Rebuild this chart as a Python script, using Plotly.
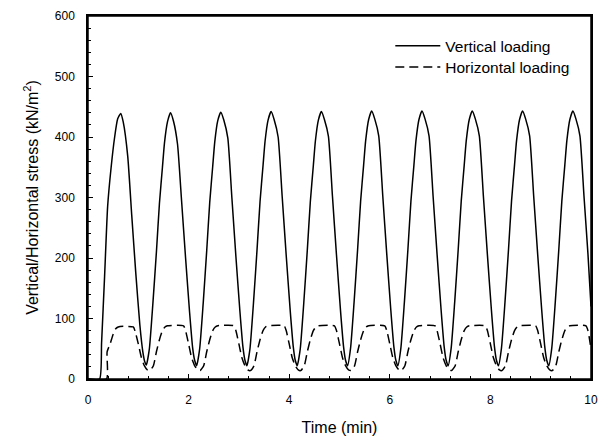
import plotly.graph_objects as go

# Vertical loading (time in min, stress in kN/m2)
vert_t = [0.00, 0.23, 0.27, 0.33, 0.39, 0.46, 0.53, 0.59, 0.65, 0.70, 0.79, 0.87, 0.95, 1.03, 1.09, 1.13, 1.16,
          1.22, 1.29, 1.36, 1.42, 1.48, 1.52, 1.58, 1.64, 1.70, 1.78, 1.86, 1.94, 2.02, 2.08, 2.12, 2.16,
          2.22, 2.29, 2.36, 2.42, 2.48, 2.52, 2.58, 2.64, 2.70, 2.78, 2.86, 2.94, 3.02, 3.08, 3.12, 3.16,
          3.22, 3.29, 3.36, 3.42, 3.48, 3.52, 3.58, 3.64, 3.70, 3.78, 3.86, 3.94, 4.02, 4.08, 4.12, 4.16,
          4.22, 4.29, 4.36, 4.42, 4.48, 4.52, 4.58, 4.64, 4.70, 4.78, 4.86, 4.94, 5.02, 5.08, 5.12, 5.16,
          5.22, 5.29, 5.36, 5.42, 5.48, 5.52, 5.58, 5.64, 5.70, 5.78, 5.86, 5.94, 6.02, 6.08, 6.12, 6.16,
          6.22, 6.29, 6.36, 6.42, 6.48, 6.52, 6.58, 6.64, 6.70, 6.78, 6.86, 6.94, 7.02, 7.08, 7.12, 7.16,
          7.22, 7.29, 7.36, 7.42, 7.48, 7.52, 7.58, 7.64, 7.70, 7.78, 7.86, 7.94, 8.02, 8.08, 8.12, 8.16,
          8.22, 8.29, 8.36, 8.42, 8.48, 8.52, 8.58, 8.64, 8.70, 8.78, 8.86, 8.94, 9.02, 9.08, 9.12, 9.16,
          9.22, 9.29, 9.36, 9.42, 9.48, 9.52, 9.58, 9.64, 9.70, 9.78, 9.86, 9.94, 10.00]
vert_y = [0, 0, 60, 170, 285, 350, 400, 430, 439, 425, 368, 270, 175, 90, 45, 28, 23,
          50, 125, 210, 290, 350, 390, 425, 440, 426, 388, 295, 200, 110, 52, 31, 22,
          50, 125, 212, 292, 352, 392, 427, 441, 428, 398, 300, 203, 112, 53, 31, 22,
          50, 126, 213, 293, 353, 393, 428, 442, 429, 400, 302, 205, 113, 54, 31, 22,
          50, 126, 213, 293, 353, 393, 428, 442, 429, 401, 302, 205, 113, 54, 31, 22,
          51, 127, 214, 294, 354, 394, 429, 443, 430, 402, 303, 206, 114, 54, 31, 22,
          51, 127, 214, 294, 354, 394, 429, 443, 430, 402, 303, 206, 114, 54, 31, 22,
          51, 127, 214, 294, 354, 394, 429, 443, 430, 402, 303, 206, 114, 54, 31, 22,
          51, 127, 214, 294, 354, 394, 429, 443, 430, 402, 303, 206, 114, 54, 31, 22,
          51, 127, 214, 294, 354, 394, 429, 443, 430, 402, 303, 206, 120]

# Horizontal loading
horz_t = [0.00, 0.37, 0.38, 0.44, 0.50, 0.55, 0.60, 0.70, 0.90, 0.94, 1.00, 1.06, 1.12, 1.18, 1.23,
          1.30, 1.36, 1.42, 1.48, 1.53, 1.58, 1.90, 1.94, 2.00, 2.06, 2.12, 2.18, 2.23,
          2.30, 2.36, 2.42, 2.48, 2.53, 2.58, 2.90, 2.94, 3.00, 3.06, 3.12, 3.18, 3.23,
          3.30, 3.36, 3.42, 3.48, 3.53, 3.58, 3.90, 3.94, 4.00, 4.06, 4.12, 4.18, 4.23,
          4.30, 4.36, 4.42, 4.48, 4.53, 4.58, 4.90, 4.94, 5.00, 5.06, 5.12, 5.18, 5.23,
          5.30, 5.36, 5.42, 5.48, 5.53, 5.58, 5.90, 5.94, 6.00, 6.06, 6.12, 6.18, 6.23,
          6.30, 6.36, 6.42, 6.48, 6.53, 6.58, 6.90, 6.94, 7.00, 7.06, 7.12, 7.18, 7.23,
          7.30, 7.36, 7.42, 7.48, 7.53, 7.58, 7.90, 7.94, 8.00, 8.06, 8.12, 8.18, 8.23,
          8.30, 8.36, 8.42, 8.48, 8.53, 8.58, 8.90, 8.94, 9.00, 9.06, 9.12, 9.18, 9.23,
          9.30, 9.36, 9.42, 9.48, 9.53, 9.58, 9.90, 9.94, 10.00]
horz_y = [0, 0, 45, 58, 74, 83, 86, 87, 86, 78, 58, 36, 22, 15, 14,
          22, 45, 65, 80, 86, 88, 88, 80, 58, 35, 22, 15, 14,
          22, 45, 65, 80, 86, 88, 88, 80, 58, 35, 22, 15, 14,
          22, 45, 65, 80, 86, 88, 88, 80, 58, 35, 22, 15, 14,
          22, 45, 65, 80, 86, 88, 88, 80, 58, 35, 22, 15, 14,
          22, 45, 65, 80, 86, 88, 88, 80, 58, 35, 22, 15, 14,
          22, 45, 65, 80, 86, 88, 88, 80, 58, 35, 22, 15, 14,
          22, 45, 65, 80, 86, 88, 88, 80, 58, 35, 22, 15, 14,
          22, 45, 65, 80, 86, 88, 88, 80, 58, 35, 22, 15, 14,
          22, 45, 65, 80, 86, 88, 88, 80, 50]

x_ticks = [0, 2, 4, 6, 8, 10]
y_ticks = [0, 100, 200, 300, 400, 500, 600]

FONT = "Arial, Liberation Sans, sans-serif"

fig = go.Figure()
fig.add_trace(go.Scatter(x=vert_t, y=vert_y, mode="lines", name="Vertical loading",
                         line=dict(color="black", width=1.5, shape="spline", smoothing=0.5),
                         legend="legend", showlegend=True))
fig.add_trace(go.Scatter(x=horz_t, y=horz_y, mode="lines", name="Horizontal loading",
                         line=dict(color="black", width=1.5, dash="9px,5px", shape="spline", smoothing=0.5),
                         legend="legend2", showlegend=True))

fig.update_xaxes(range=[0, 10], tickmode="array", tickvals=x_ticks,
                 ticktext=[str(v) for v in x_ticks],
                 showgrid=False, zeroline=False,
                 showline=True, linecolor="#000000", linewidth=1.5, mirror=True,
                 layer="above traces",
                 ticks="inside", ticklen=5, tickwidth=1, tickcolor="#000000",
                 tickfont=dict(family=FONT, size=12, color="black"),
                 minor=dict(tickmode="linear", dtick=0.4, tick0=0, ticks="inside", ticklen=3,
                            tickcolor="#000000", showgrid=False),
                 title=dict(text="Time (min)", font=dict(family=FONT, size=16), standoff=16),
                 ticklabelstandoff=9, automargin=False)
fig.update_yaxes(range=[0, 600], tickmode="array", tickvals=y_ticks,
                 ticktext=[str(v) for v in y_ticks],
                 showgrid=False, zeroline=False,
                 showline=True, linecolor="#000000", linewidth=1.5, mirror=True,
                 layer="above traces",
                 ticks="inside", ticklen=5, tickwidth=1, tickcolor="#000000",
                 tickfont=dict(family=FONT, size=12, color="black"),
                 minor=dict(tickmode="linear", dtick=20, tick0=0, ticks="inside", ticklen=3,
                            tickcolor="#000000", showgrid=False),
                 title=dict(text="Vertical/Horizontal stress (kN/m<sup>2</sup>)",
                            font=dict(family=FONT, size=16), standoff=12),
                 ticklabelstandoff=9, automargin=False)

frame = dict(xref="paper", yref="paper", line=dict(color="black", width=1.5), layer="above")
fig.update_layout(
    width=602, height=441,
    margin=dict(l=88, r=11, t=16, b=62, autoexpand=False),
    paper_bgcolor="white", plot_bgcolor="white",
    font=dict(family=FONT, color="black"),
    showlegend=True,
    legend=dict(x=0.601, y=0.917, xanchor="left", yanchor="middle", bgcolor="rgba(0,0,0,0)",
                itemwidth=45, font=dict(family=FONT, size=15.5), visible=True),
    legend2=dict(x=0.601, y=0.858, xanchor="left", yanchor="middle", bgcolor="rgba(0,0,0,0)",
                 itemwidth=45, font=dict(family=FONT, size=15.5), visible=True),
    shapes=[dict(type="line", x0=0, x1=0, y0=0, y1=1, **frame),
            dict(type="line", x0=1, x1=1, y0=0, y1=1, **frame),
            dict(type="line", x0=0, x1=1, y0=0, y1=0, **frame),
            dict(type="line", x0=0, x1=1, y0=1, y1=1, **frame)],
)

fig.write_html("out.html", config=dict(displayModeBar=False),
               post_script="document.body.style.margin='0';document.body.style.overflow='hidden';")
